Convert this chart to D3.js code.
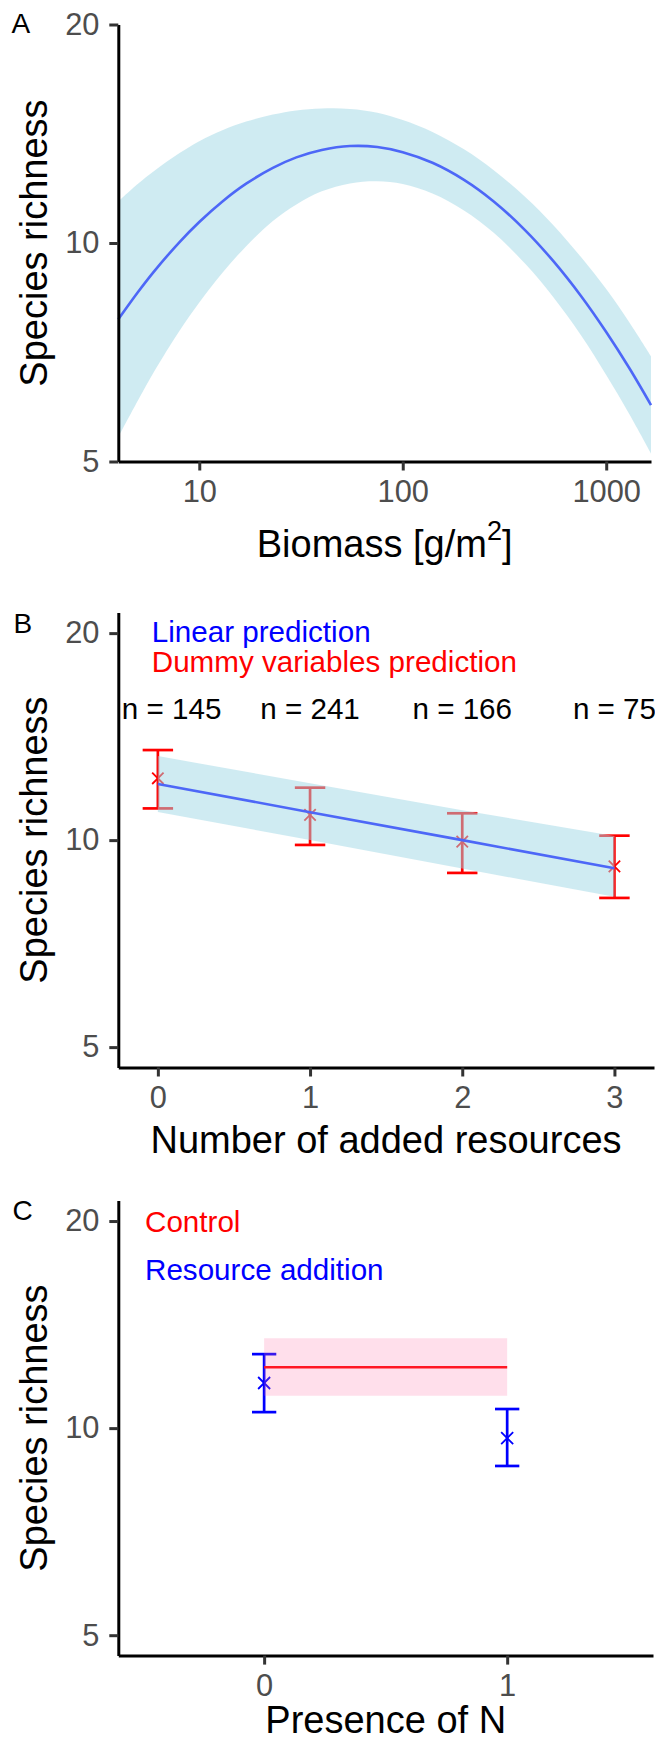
<!DOCTYPE html>
<html>
<head>
<meta charset="utf-8">
<script src="https://cdn.jsdelivr.net/npm/d3@7"></script>
<style>
  body { margin: 0; background: #fff; }
  svg { display: block; font-family: "Liberation Sans", Arial, Helvetica, sans-serif; }
</style>
</head>
<body>
<svg id="chart" width="655" height="1743"></svg>
<script>
// panel A - quadratic fit of richness on biomass
var biomass = [4, 5, 6, 8, 10, 13, 17, 23, 30, 40, 55, 75, 100, 140, 200, 280, 400, 550, 750, 1000, 1300, 1660];
var fitA    = [7.85, 8.56, 9.14, 10.03, 10.69, 11.41, 12.07, 12.69, 13.12, 13.43, 13.60, 13.56, 13.34, 12.90, 12.22, 11.41, 10.41, 9.44, 8.46, 7.54, 6.72, 5.98];
var upperA  = [11.41, 12.07, 12.57, 13.30, 13.81, 14.30, 14.70, 15.03, 15.23, 15.32, 15.30, 15.12, 14.77, 14.22, 13.46, 12.60, 11.57, 10.58, 9.57, 8.64, 7.77, 6.98];
var lowerA  = [5.40, 6.07, 6.65, 7.57, 8.28, 9.10, 9.90, 10.72, 11.30, 11.78, 12.08, 12.16, 12.06, 11.70, 11.09, 10.33, 9.36, 8.42, 7.47, 6.58, 5.81, 5.13];
var biomassTicks = [10, 100, 1000];

// panel B - number of added resources
var resources    = [0, 1, 2, 3];
var linearFit    = [12.07, 10.98, 10.00, 9.10];
var linearUpper  = [13.25, 12.10, 11.05, 10.14];
var linearLower  = [10.99, 10.00, 9.09, 8.27];
var dummyMean    = [12.30, 10.88, 9.95, 9.16];
var dummyUpper   = [13.52, 11.92, 10.94, 10.15];
var dummyLower   = [11.12, 9.84, 8.96, 8.24];
var sampleSizes  = [145, 241, 166, 75];
var sampleLabelX = [0.09, 1, 2, 3];

// panel C - presence of N
var nitrogen      = [0, 1];
var controlMean   = [12.26, 12.26];
var controlUpper  = [13.51, 13.51];
var controlLower  = [11.14, 11.14];
var additionMean  = [11.63, 9.67];
var additionUpper = [12.81, 10.66];
var additionLower = [10.55, 8.81];

var richnessTicks = [5, 10, 20];

var svg = d3.select("#chart");
var tickFont = 30.8, titleFont = 38, noteFont = 29.6;

function drawAxes(g, x, y, xTicks, axisY) {
	var left = d3.axisLeft(y).tickValues(richnessTicks).tickFormat(d3.format("d"))
		.tickSize(9).tickSizeOuter(0).tickPadding(9.8);
	var bottom = d3.axisBottom(x).tickValues(xTicks).tickFormat(d3.format("d"))
		.tickSize(9).tickSizeOuter(0).tickPadding(10);

	var ga = g.append("g").attr("transform", "translate(" + x.range()[0] + ",0)").call(left);
	var gb = g.append("g").attr("transform", "translate(0," + axisY + ")").call(bottom);

	[ga, gb].forEach(function (a) {
		a.attr("font-family", null).attr("font-size", null);
		a.select(".domain").attr("stroke", "#000").attr("stroke-width", 3);
		a.selectAll(".tick line").attr("stroke", "#333").attr("stroke-width", 3);
		a.selectAll(".tick text").attr("fill", "#4d4d4d").style("font-size", tickFont + "px");
	});
}

function yTitle(cy) {
	svg.append("text")
		.attr("transform", "translate(46.5," + cy + ") rotate(-90)")
		.attr("text-anchor", "middle")
		.style("font-size", titleFont + "px")
		.text("Species richness");
}

function panelLabel(txt, x, y) {
	svg.append("text").attr("x", x).attr("y", y).style("font-size", "28px").text(txt);
}

function crosses(g, pts, half, color) {
	g.selectAll(null).data(pts).enter().append("path")
		.attr("d", function (d) {
			return "M" + (d[0] - half) + "," + (d[1] - half) + "L" + (d[0] + half) + "," + (d[1] + half) +
				"M" + (d[0] - half) + "," + (d[1] + half) + "L" + (d[0] + half) + "," + (d[1] - half);
		})
		.attr("stroke", color).attr("stroke-width", 1.8).attr("fill", "none");
}

function errorBars(g, xs, lo, hi, x, y, capW, color) {
	xs.forEach(function (v, i) {
		var cx = x(v);
		var c0 = x(v - capW / 2), c1 = x(v + capW / 2);
		g.append("line").attr("x1", cx).attr("x2", cx).attr("y1", y(lo[i])).attr("y2", y(hi[i]));
		g.append("line").attr("x1", c0).attr("x2", c1).attr("y1", y(lo[i])).attr("y2", y(lo[i]));
		g.append("line").attr("x1", c0).attr("x2", c1).attr("y1", y(hi[i])).attr("y2", y(hi[i]));
	});
	g.attr("stroke", color).attr("stroke-width", 2.7);
}

// ---------- A ----------
var xA = d3.scaleLog().domain([biomass[0], biomass[biomass.length - 1]]).range([118.3, 651]);
var yA = d3.scaleLog().domain([5, 20]).range([461.5, 24.5]);
var gA = svg.append("g");

gA.append("path")
	.attr("d", d3.area().curve(d3.curveCatmullRom)
		.x(function (d, i) { return xA(biomass[i]); })
		.y0(function (d, i) { return yA(lowerA[i]); })
		.y1(function (d, i) { return yA(upperA[i]); })(biomass))
	.attr("fill", "rgb(160,215,230)").attr("fill-opacity", 0.5);

gA.append("path")
	.attr("d", d3.line().curve(d3.curveCatmullRom)
		.x(function (d, i) { return xA(biomass[i]); })
		.y(function (d, i) { return yA(fitA[i]); })(biomass))
	.attr("fill", "none").attr("stroke", "#4d67f7").attr("stroke-width", 2.6);

drawAxes(gA, xA, yA, biomassTicks, 461.5);
yTitle(243);
panelLabel("A", 11.5, 33.3);

var tA = svg.append("text").attr("x", 384.6).attr("y", 556.7).attr("text-anchor", "middle")
	.style("font-size", titleFont + "px");
tA.append("tspan").text("Biomass [g/m");
tA.append("tspan").attr("dy", -17).style("font-size", "27px").text("2");
tA.append("tspan").attr("dy", 17).text("]");

// ---------- B ----------
var xB = d3.scaleLinear().domain([-0.26, 3.26]).range([118.3, 654]);
var yB = d3.scaleLog().domain([4.67, 21.43]).range([1067.5, 612.5]);
var gB = svg.append("g");

errorBars(gB.append("g"), resources, dummyLower, dummyUpper, xB, yB, 0.2, "#ff0000");
crosses(gB.append("g"), resources.map(function (v, i) { return [xB(v), yB(dummyMean[i])]; }), 5.7, "#ff0000");

gB.append("path")
	.attr("d", d3.area()
		.x(function (d) { return xB(d); })
		.y0(function (d, i) { return yB(linearLower[i]); })
		.y1(function (d, i) { return yB(linearUpper[i]); })(resources))
	.attr("fill", "rgb(160,215,230)").attr("fill-opacity", 0.5);

gB.append("path")
	.attr("d", d3.line()
		.x(function (d) { return xB(d); })
		.y(function (d, i) { return yB(linearFit[i]); })(resources))
	.attr("fill", "none").attr("stroke", "#4d67f7").attr("stroke-width", 2.6);

drawAxes(gB, xB, yB, resources, 1067.5);
yTitle(840);
panelLabel("B", 13.5, 633);

svg.append("text").attr("x", xB(-0.04)).attr("y", 642).attr("fill", "#0000ff")
	.style("font-size", noteFont + "px").text("Linear prediction");
svg.append("text").attr("x", xB(-0.04)).attr("y", 672).attr("fill", "#ff0000")
	.style("font-size", noteFont + "px").text("Dummy variables prediction");

svg.selectAll(null).data(sampleSizes).enter().append("text")
	.attr("x", function (d, i) { return xB(sampleLabelX[i]); })
	.attr("y", 719.3).attr("text-anchor", "middle")
	.style("font-size", noteFont + "px")
	.text(function (d) { return "n = " + d; });

svg.append("text").attr("x", 386).attr("y", 1152.5).attr("text-anchor", "middle")
	.style("font-size", titleFont + "px").text("Number of added resources");

// ---------- C ----------
var xC = d3.scaleLinear().domain([-0.6, 1.6]).range([118.3, 653]);
var yC = d3.scaleLog().domain([4.67, 21.43]).range([1655.6, 1200.4]);
var gC = svg.append("g");

errorBars(gC.append("g"), nitrogen, additionLower, additionUpper, xC, yC, 0.1, "#0000ff");
crosses(gC.append("g"), nitrogen.map(function (v, i) { return [xC(v), yC(additionMean[i])]; }), 6, "#0000ff");

gC.append("line")
	.attr("x1", xC(nitrogen[0])).attr("x2", xC(nitrogen[1]))
	.attr("y1", yC(controlMean[0])).attr("y2", yC(controlMean[1]))
	.attr("stroke", "#ff0000").attr("stroke-width", 2.7);

gC.append("path")
	.attr("d", d3.area()
		.x(function (d) { return xC(d); })
		.y0(function (d, i) { return yC(controlLower[i]); })
		.y1(function (d, i) { return yC(controlUpper[i]); })(nitrogen))
	.attr("fill", "rgb(255,110,165)").attr("fill-opacity", 0.22);

drawAxes(gC, xC, yC, nitrogen, 1655.6);
yTitle(1428);
panelLabel("C", 12.5, 1220);

svg.append("text").attr("x", xC(-0.49)).attr("y", 1231.6).attr("fill", "#ff0000")
	.style("font-size", noteFont + "px").text("Control");
svg.append("text").attr("x", xC(-0.49)).attr("y", 1279.5).attr("fill", "#0000ff")
	.style("font-size", noteFont + "px").text("Resource addition");

svg.append("text").attr("x", 385.7).attr("y", 1733).attr("text-anchor", "middle")
	.style("font-size", titleFont + "px").text("Presence of N");
</script>
</body>
</html>
